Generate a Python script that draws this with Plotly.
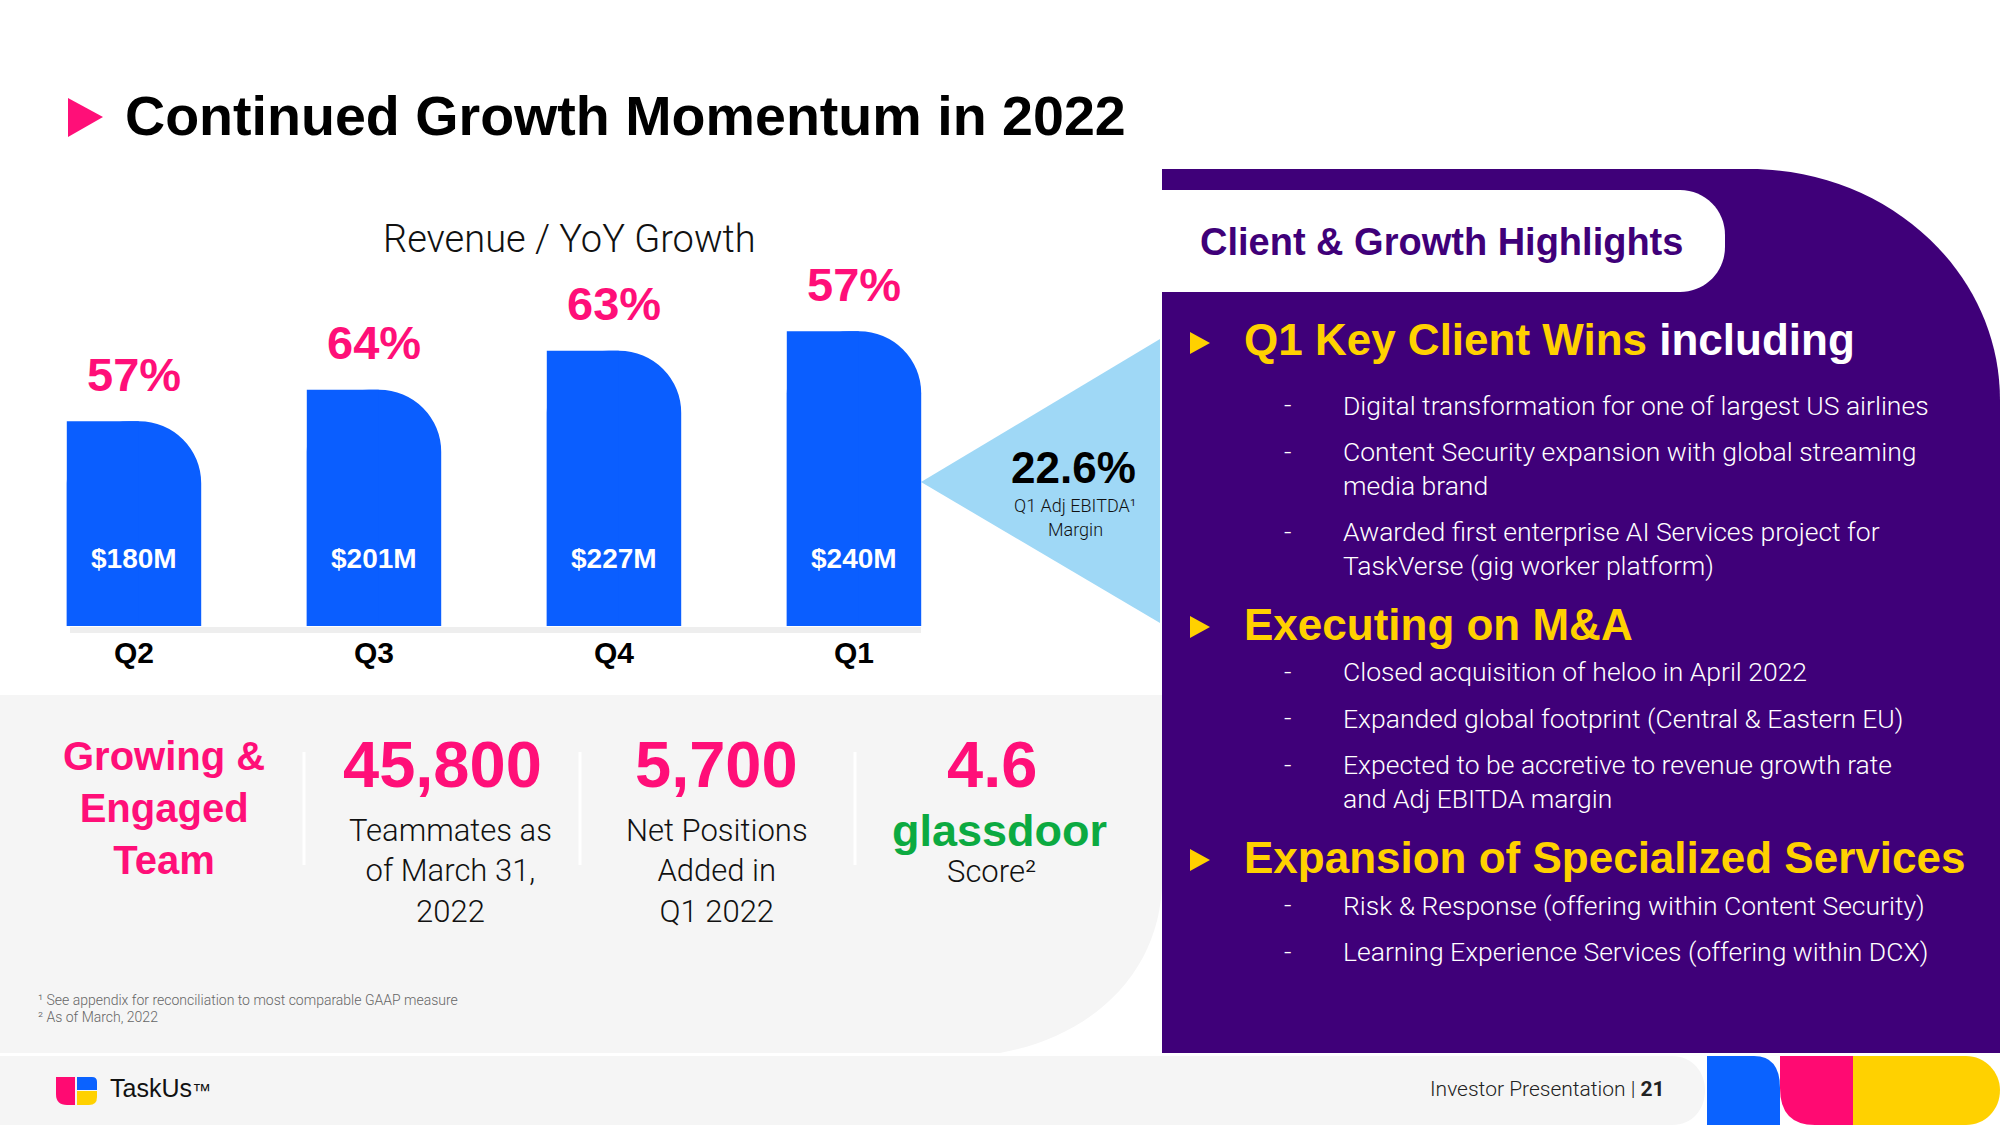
import plotly.graph_objects as go

# ---------------- data ----------------
quarters = ["Q2", "Q3", "Q4", "Q1"]
revenue_musd = [180, 201, 227, 240]
yoy_growth_pct = [57, 64, 63, 57]

chart_title = "Revenue / YoY Growth"
ebitda_margin = "22.6%"
ebitda_caption = ["Q1 Adj EBITDA¹", "Margin"]

team_heading = ["Growing &", "Engaged", "Team"]
stat_values = ["45,800", "5,700", "4.6"]
stat_captions = [
    ["Teammates as", "of March 31,", "2022"],
    ["Net Positions", "Added in", "Q1 2022"],
    ["Score²"],
]

highlights_title = "Client & Growth Highlights"
section_titles = [
    ("Q1 Key Client Wins", " including"),
    ("Executing on M&A", ""),
    ("Expansion of Specialized Services", ""),
]
section_items = [
    [
        ["Digital transformation for one of largest US airlines"],
        ["Content Security expansion with global streaming", "media brand"],
        ["Awarded first enterprise AI Services project for", "TaskVerse (gig worker platform)"],
    ],
    [
        ["Closed acquisition of heloo in April 2022"],
        ["Expanded global footprint (Central & Eastern EU)"],
        ["Expected to be accretive to revenue growth rate", "and Adj EBITDA margin"],
    ],
    [
        ["Risk & Response (offering within Content Security)"],
        ["Learning Experience Services (offering within DCX)"],
    ],
]
footnotes = [
    "¹ See appendix for reconciliation to most comparable GAAP measure",
    "² As of March, 2022",
]
page_label = "Investor Presentation | <b>21</b>"
logo_label = 'TaskUs<span style="font-size:19px">™</span>'

# ---------------- styling / layout helpers ----------------
W, H = 2000, 1125
FONT = "Liberation Sans, Arial, Helvetica, sans-serif"
LIGHT = "Roboto, Liberation Sans, Arial, sans-serif"
PINK = "#FF0F78"
BLUE = "#0A5EFF"
PURPLE = "#3F0079"
YELLOW = "#FFD100"
LIGHTBLUE = "#9FD8F6"
GRAY = "#F5F5F5"
GREEN = "#0CAA41"


def X(p):
    return p / W


def Y(p):
    return 1 - p / H


def path(cmds):
    out = []
    for c in cmds:
        op = c[0]
        if op == "Z":
            out.append("Z")
            continue
        pts = " ".join(f"{X(x):.5f},{Y(y):.5f}" for x, y in c[1:])
        out.append(f"{op} {pts}")
    return " ".join(out)


shapes = []


def add_path(cmds, color, layer="below"):
    shapes.append(dict(type="path", xref="paper", yref="paper", path=path(cmds),
                       fillcolor=color, line=dict(width=0), layer=layer))


def add_line(x0, y0, x1, y1, color, width):
    shapes.append(dict(type="line", xref="paper", yref="paper", x0=X(x0), y0=Y(y0),
                       x1=X(x1), y1=Y(y1), line=dict(color=color, width=width), layer="below"))


annotations = []


def add_text(text, x, y, size, color="#111111", weight="normal", xanchor="center", align="center",
             yanchor="middle", family=FONT):
    annotations.append(dict(text=text, x=X(x), y=Y(y), xref="paper", yref="paper",
                            xanchor=xanchor, yanchor=yanchor, align=align, showarrow=False,
                            font=dict(family=family, size=size, color=color, weight=weight)))


# ---------------- background shapes ----------------
# grey lower-left panel
add_path([("M", (0, 695)), ("L", (1162, 695)), ("L", (1162, 880)),
          ("C", (1162, 965), (1100, 1035), (1000, 1053)), ("L", (0, 1053)), ("Z",)], GRAY)
# footer band
add_path([("M", (0, 1056)), ("L", (1672, 1056)), ("C", (1692, 1056), (1705, 1072), (1705, 1090)),
          ("C", (1705, 1110), (1692, 1125), (1672, 1125)), ("L", (0, 1125)), ("Z",)], GRAY)
# purple panel
add_path([("M", (1162, 169)), ("L", (1750, 169)), ("C", (1888, 169), (2000, 272), (2000, 400)),
          ("L", (2000, 1053)), ("L", (1162, 1053)), ("Z",)], PURPLE)
# white tab
add_path([("M", (1162, 190)), ("L", (1680, 190)), ("C", (1705, 190), (1725, 210), (1725, 235)),
          ("L", (1725, 247)), ("C", (1725, 272), (1705, 292), (1680, 292)), ("L", (1162, 292)), ("Z",)],
         "#FFFFFF")
# light blue callout triangle
add_path([("M", (921, 482)), ("L", (1160, 339)), ("L", (1160, 623)), ("Z",)], LIGHTBLUE)
# baseline band under bars
add_line(70, 630, 921, 630, "#EEEEEE", 6)
# footer colour blocks
add_path([("M", (1707, 1056)), ("L", (1754, 1056)), ("Q", (1780, 1056), (1780, 1088)),
          ("L", (1780, 1125)), ("L", (1707, 1125)), ("Z",)], "#0A62FF")
add_path([("M", (1780, 1056)), ("L", (1853, 1056)), ("L", (1853, 1125)), ("L", (1815, 1125)),
          ("Q", (1780, 1125), (1780, 1088)), ("Z",)], "#FF0A72")
add_path([("M", (1853, 1056)), ("L", (1966, 1056)), ("C", (1985, 1056), (2000, 1072), (2000, 1090)),
          ("C", (2000, 1110), (1985, 1125), (1966, 1125)), ("L", (1853, 1125)), ("Z",)], YELLOW)
# logo
add_path([("M", (56, 1077)), ("L", (75, 1077)), ("L", (75, 1105)), ("L", (67, 1105)),
          ("Q", (56, 1105), (56, 1094)), ("Z",)], "#FF0A72")
add_path([("M", (77, 1077)), ("L", (92, 1077)), ("Q", (97, 1077), (97, 1082)), ("L", (97, 1090)),
          ("L", (77, 1090)), ("Z",)], "#0A62FF")
add_path([("M", (77, 1091)), ("L", (97, 1091)), ("L", (97, 1097)), ("Q", (97, 1105), (89, 1105)),
          ("L", (77, 1105)), ("Z",)], YELLOW)
# title triangle
add_path([("M", (68, 98)), ("L", (103, 117)), ("L", (68, 137)), ("Z",)], PINK)
# stat dividers
for dx in (304, 580, 855):
    add_line(dx, 752, dx, 865, "#FFFFFF", 3)

# ---------------- texts ----------------
add_text("Continued Growth Momentum in 2022", 123, 116, 55.6, "#000000", "bold", xanchor="left")
add_text(chart_title, 569, 239, 38, "#111111", 300, family=LIGHT)

add_text(ebitda_margin, 1073, 467, 44, "#000000", "bold")
add_text(ebitda_caption[0], 1075, 505, 18, "#111111", 300, family=LIGHT)
add_text(ebitda_caption[1], 1075, 529, 18, "#111111", 300, family=LIGHT)

add_text("<br>".join(team_heading), 164, 808, 40, PINK, "bold")
stat_x = [442, 716, 992]
for i, val in enumerate(stat_values):
    add_text(val, stat_x[i], 764, 65, PINK, "bold")
add_text("<br>".join(stat_captions[0]), 450, 871, 31, "#111111", 300, family=LIGHT)
add_text("<br>".join(stat_captions[1]), 717, 871, 31, "#111111", 300, family=LIGHT)
add_text("glassdoor", 999, 830, 45, GREEN, "bold")
add_text("<br>".join(stat_captions[2]), 991, 871, 31, "#111111", 300, family=LIGHT)

add_text(footnotes[0], 36, 1000, 14, "#666666", 300, xanchor="left", align="left", family=LIGHT)
add_text(footnotes[1], 36, 1017, 14, "#666666", 300, xanchor="left", align="left", family=LIGHT)

add_text(logo_label, 108, 1088, 25, "#111111", 500, xanchor="left", align="left")
add_text(page_label, 1667, 1089, 21, "#222222", 300, xanchor="right", align="right", family=LIGHT)

# right panel
add_text(highlights_title, 1198, 242, 38, PURPLE, "bold", xanchor="left", align="left")
heading_y = [340, 624, 857]
item_lines_y = [
    [[405], [451.7, 485], [531.7, 565]],
    [[671.7], [718], [765, 798]],
    [[905], [951.7]],
]
for s, (title, item_y) in enumerate(zip(section_titles, item_lines_y)):
    hy = heading_y[s]
    add_path([("M", (1190, hy - 11 + 3)), ("L", (1210, hy + 3)), ("L", (1190, hy + 11 + 3)), ("Z",)],
             YELLOW, layer="above")
    txt = f'<span style="color:{YELLOW}">{title[0]}</span>{title[1]}'
    add_text(txt, 1242, hy, 44, "#FFFFFF", "bold", xanchor="left", align="left")
    for lines, ys in zip(section_items[s], item_y):
        add_text("-", 1287, ys[0], 26, "#FFFFFF", 300, family=LIGHT)
        add_text("<br>".join(lines), 1341, sum(ys) / len(ys), 26.5, "#FFFFFF", 300,
                 xanchor="left", align="left", family=LIGHT)

# ---------------- bar chart ----------------
fig = go.Figure()
fig.add_bar(x=quarters, y=revenue_musd, width=0.56, offset=-0.28,
            marker=dict(color=BLUE, cornerradius=62, line=dict(width=0)), hoverinfo="skip")
fig.add_bar(x=quarters, y=revenue_musd, width=0.30, offset=-0.28,
            marker=dict(color=BLUE, line=dict(width=0)), hoverinfo="skip")

for q, v, g in zip(quarters, revenue_musd, yoy_growth_pct):
    annotations.append(dict(text=f"{g}%", x=q, y=v, xref="x", yref="y", yanchor="middle",
                            yshift=47, showarrow=False,
                            font=dict(family=FONT, size=47, color=PINK, weight="bold")))
    annotations.append(dict(text=f"${v}M", x=q, y=Y(558), xref="x", yref="paper", yanchor="middle",
                            showarrow=False,
                            font=dict(family=FONT, size=28, color="#FFFFFF", weight="bold")))

fig.update_layout(
    width=W, height=H,
    margin=dict(l=0, r=0, t=0, b=0),
    paper_bgcolor="#FFFFFF",
    plot_bgcolor="rgba(0,0,0,0)",
    barmode="overlay",
    showlegend=False,
    xaxis=dict(domain=[X(14), X(974)], range=[-0.5, 3.5], type="category",
               showgrid=False, zeroline=False, showline=False, ticks="",
               ticklabelstandoff=6,
               tickfont=dict(family=FONT, size=30, color="#000000", weight="bold")),
    yaxis=dict(domain=[Y(626), Y(200)], range=[43.4, 327.6], visible=False),
    shapes=shapes,
    annotations=annotations,
)

fig.write_html("out.html", config={"displayModeBar": False},
               post_script="document.body.style.margin='0';document.body.style.overflow='hidden';")
